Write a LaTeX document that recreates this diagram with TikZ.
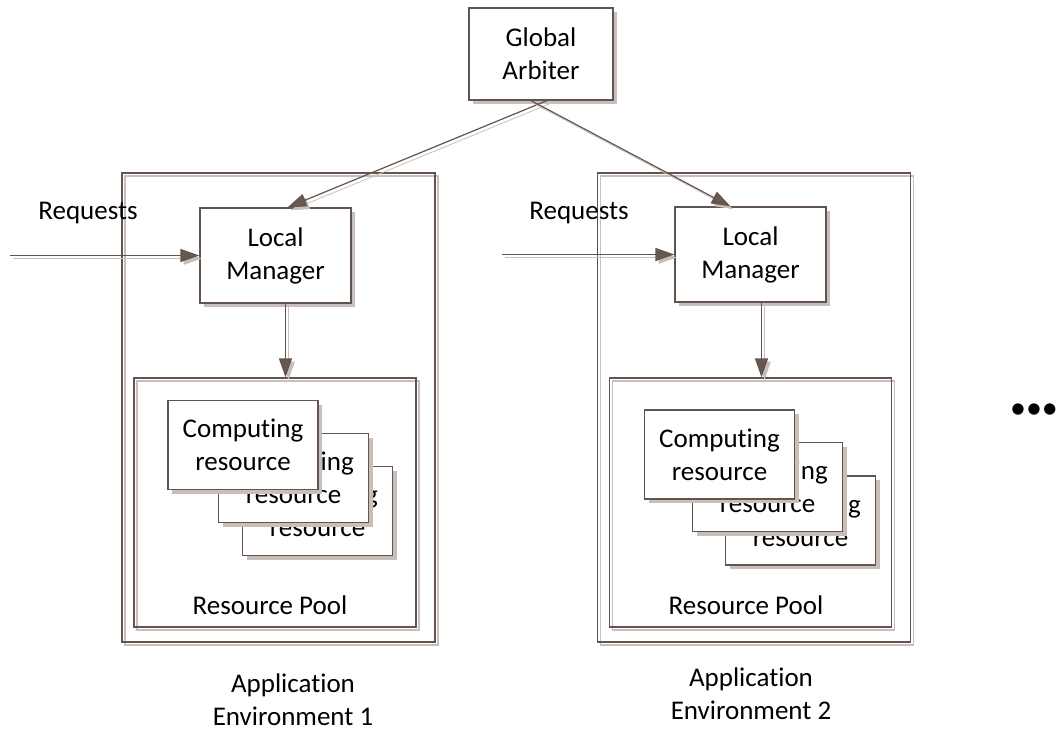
\documentclass[tikz,border=0pt]{standalone}
\usepackage{fontspec}
\setmainfont{Carlito}[Ligatures=NoCommon]
\usetikzlibrary{arrows.meta,shadows}

\definecolor{edgec}{RGB}{98,84,78}
\definecolor{tipc}{RGB}{104,88,82}
\definecolor{shadec}{RGB}{200,191,187}

\tikzset{
	block/.style={draw=edgec, line width=0.6pt, fill=white, align=center, inner sep=2pt,
		drop shadow={shadow xshift=2pt, shadow yshift=-2pt, fill=shadec, opacity=1}},
	shell/.style={draw=edgec, line width=0.6pt, inner sep=0pt,
		general shadow={shadow xshift=1.5pt, shadow yshift=-1.5pt, draw=shadec, line width=0.6pt}},
	flow/.style={draw=edgec, line width=0.6pt, -{Triangle[length=9.5pt,width=6.5pt,fill=tipc]},
		preaction={draw=shadec, -{Triangle[length=9.5pt,width=6.5pt]}, transform canvas={shift={(1.5pt,-1.5pt)}}}},
	tag/.style={align=center}
}

\begin{document}
\begin{tikzpicture}[x=0.5pt, y=-0.5pt, font=\fontsize{13.5}{16.5}\selectfont]
			%%%%% START %%%%%
			\useasboundingbox (0,0) rectangle (1057,730);
			
			% environments and pools
			\node[shell, minimum width=156.5pt, minimum height=234.5pt] (env1) at (278.5, 407.5) {};
			\node[shell, minimum width=156.5pt, minimum height=234.5pt] (env2) at (754, 407.5) {};
			\node[shell, minimum width=141pt, minimum height=124.5pt] (rp1) at (275, 502.5) {};
			\node[shell, minimum width=141pt, minimum height=124.5pt] (rp2) at (750.5, 502.5) {};
			
			% arbiter and managers
			\node[block, minimum width=72pt, minimum height=46pt] (ga) at (541, 54) {Global\\Arbiter};
			\node[block, minimum width=75.5pt, minimum height=47.5pt] (lm1) at (275.5, 255.5) {Local\\Manager};
			\node[block, minimum width=75.5pt, minimum height=47.5pt] (lm2) at (750.5, 254.5) {Local\\Manager};
			
			% computing resources, back to front
			\node[block, minimum width=75pt, minimum height=44.5pt] (cr13) at (317.5, 511) {Computing\\resource};
			\node[block, minimum width=75pt, minimum height=44.5pt] (cr12) at (293.5, 478) {Computing\\resource};
			\node[block, minimum width=75pt, minimum height=44.5pt] (cr11) at (243, 445) {Computing\\resource};
			
			\node[block, minimum width=75pt, minimum height=44.5pt] (cr23) at (800.5, 520.5) {Computing\\resource};
			\node[block, minimum width=75pt, minimum height=44.5pt] (cr22) at (767.5, 487) {Computing\\resource};
			\node[block, minimum width=75pt, minimum height=44.5pt] (cr21) at (719.5, 454.5) {Computing\\resource};
			
			% requests
			\coordinate (req1) at (10, 255.5);
			\coordinate (req2) at (502, 254.5);
			\node[tag] (rq1) at (88, 213.5) {Requests};
			\node[tag] (rq2) at (579, 213) {Requests};
			\draw[flow] (req1) -- (lm1.west);
			\draw[flow] (req2) -- (lm2.west);
			
			% arbiter to managers
			\draw[flow] ([xshift=3pt]ga.south) -- ([xshift=6pt]lm1.north);
			\draw[flow] ([xshift=-5pt]ga.south) -- ([xshift=-10pt]lm2.north);
			
			% managers to pools
			\coordinate (out1) at ([xshift=5pt]lm1.south);
			\coordinate (out2) at ([xshift=5.5pt]lm2.south);
			\draw[flow] (out1) -- (out1 |- rp1.north);
			\draw[flow] (out2) -- (out2 |- rp2.north);
			
			% captions
			\node[tag] (rpl1) at (270, 605) {Resource Pool};
			\node[tag] (rpl2) at (746, 605) {Resource Pool};
			\node[tag] (ae1) at (293, 700) {Application\\Environment 1};
			\node[tag] (ae2) at (751, 694) {Application\\Environment 2};
			
			\node[tag] (more) at (1034, 411) {\fontsize{16}{16}\selectfont\textbullet\textbullet\textbullet};
			
			%%%%% END %%%%%
\end{tikzpicture}
\end{document}
